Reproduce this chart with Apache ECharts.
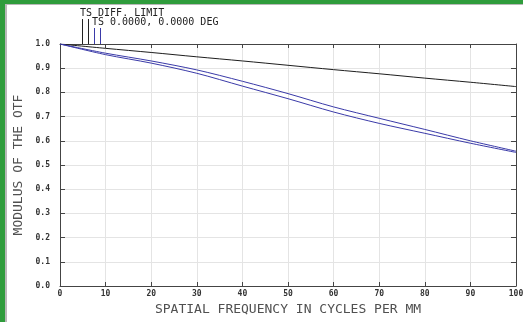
<!DOCTYPE html>
<html>
<head>
<meta charset="utf-8">
<script src="https://cdn.jsdelivr.net/npm/echarts@6/dist/echarts.min.js"></script>
<style>
  html, body { margin: 0; padding: 0; background: #ffffff; }
  #chart { width: 523px; height: 322px; }
</style>
</head>
<body>
<div id="chart"></div>
<script>
// Spatial frequency samples (cycles per mm)
const frequencies = [0, 10, 20, 30, 40, 50, 60, 70, 80, 90, 100];
// Diffraction-limited MTF
const diffLimit = [1.0, 0.982, 0.965, 0.947, 0.930, 0.912, 0.894, 0.877, 0.859, 0.842, 0.824];
// Tangential and sagittal MTF at 0.0000, 0.0000 DEG
const tangential = [1.0, 0.962, 0.930, 0.893, 0.846, 0.795, 0.740, 0.693, 0.647, 0.600, 0.557];
const sagittal   = [1.0, 0.956, 0.921, 0.879, 0.826, 0.774, 0.719, 0.672, 0.631, 0.590, 0.552];

const legendTop = 'TS DIFF. LIMIT';
const legendField = 'TS 0.0000, 0.0000 DEG';
const xTitle = 'SPATIAL FREQUENCY IN CYCLES PER MM';
const yTitle = 'MODULUS OF THE OTF';

const mono = '"DejaVu Sans Mono", "Liberation Mono", monospace';
const frameGreen = '#2f9c3c';
const axisColor = '#444444';
const gridColor = '#e4e4e4';
const blue = '#3a3aa8';

const pairs = arr => frequencies.map((f, i) => [f, arr[i]]);

const chart = echarts.init(document.getElementById('chart'), null, { renderer: 'canvas' });

const baseX = {
  type: 'value', min: 0, max: 100, interval: 10,
  axisLine: { show: true, onZero: false, lineStyle: { color: axisColor, width: 1 } },
  axisTick: { show: true, inside: true, length: 4, lineStyle: { color: axisColor } },
  splitLine: { show: false }
};
const baseY = {
  type: 'value', min: 0, max: 1, interval: 0.1,
  axisLine: { show: true, onZero: false, lineStyle: { color: axisColor, width: 1 } },
  axisTick: { show: true, inside: true, length: 5, lineStyle: { color: axisColor } },
  splitLine: { show: false }
};

chart.setOption({
  animation: false,
  backgroundColor: '#ffffff',
  grid: { left: 60, right: 7, top: 44, bottom: 36, containLabel: false, outerBoundsMode: 'none' },
  xAxis: [
    Object.assign({}, baseX, {
      position: 'bottom',
      splitLine: { show: true, lineStyle: { color: gridColor, width: 1 } },
      axisLabel: { show: true, margin: 4, fontFamily: mono, fontSize: 8, fontWeight: 'bold', color: '#333' },
      name: xTitle, nameLocation: 'middle', nameGap: 12,
      nameTextStyle: { fontFamily: mono, fontSize: 13, color: '#505050' }
    }),
    Object.assign({}, baseX, { position: 'top', axisLabel: { show: false } })
  ],
  yAxis: [
    Object.assign({}, baseY, {
      position: 'left',
      splitLine: { show: true, lineStyle: { color: gridColor, width: 1 } },
      axisLabel: {
        show: true, margin: 10, fontFamily: mono, fontSize: 8, fontWeight: 'bold', color: '#333',
        formatter: v => v.toFixed(1)
      },
      name: yTitle, nameLocation: 'middle', nameGap: 34,
      nameTextStyle: { fontFamily: mono, fontSize: 13, color: '#505050' }
    }),
    Object.assign({}, baseY, { position: 'right', axisLabel: { show: false } })
  ],
  series: [
    {
      name: 'DIFF. LIMIT', type: 'line', data: pairs(diffLimit), smooth: 0.3,
      showSymbol: false, lineStyle: { color: '#1e1e1e', width: 1 }
    },
    {
      name: 'T', type: 'line', data: pairs(tangential), smooth: 0.3,
      showSymbol: false, lineStyle: { color: blue, width: 1 }
    },
    {
      name: 'S', type: 'line', data: pairs(sagittal), smooth: 0.3,
      showSymbol: false, lineStyle: { color: blue, width: 1 }
    }
  ],
  graphic: [
    // window frame strips
    { type: 'rect', shape: { x: 0, y: 0, width: 523, height: 4 }, style: { fill: frameGreen }, silent: true },
    { type: 'rect', shape: { x: 0, y: 0, width: 5, height: 322 }, style: { fill: frameGreen }, silent: true },
    { type: 'rect', shape: { x: 5, y: 4, width: 518, height: 1 }, style: { fill: '#b8b8b8' }, silent: true },
    { type: 'rect', shape: { x: 5, y: 4, width: 2, height: 318 }, style: { fill: '#b8b8b8' }, silent: true },
    // legend captions
    { type: 'text', left: 80, top: 8, style: { text: legendTop, font: '10px ' + mono, fill: '#222' } },
    { type: 'text', left: 92, top: 17, style: { text: legendField, font: '10px ' + mono, fill: '#222' } },
    // legend leader lines
    { type: 'line', shape: { x1: 82.5, y1: 19, x2: 82.5, y2: 44 }, style: { stroke: '#222', lineWidth: 1 } },
    { type: 'line', shape: { x1: 88.5, y1: 19, x2: 88.5, y2: 44 }, style: { stroke: '#222', lineWidth: 1 } },
    { type: 'line', shape: { x1: 94.5, y1: 28, x2: 94.5, y2: 44 }, style: { stroke: blue, lineWidth: 1 } },
    { type: 'line', shape: { x1: 100.5, y1: 28, x2: 100.5, y2: 44 }, style: { stroke: blue, lineWidth: 1 } }
  ]
});
</script>
</body>
</html>
